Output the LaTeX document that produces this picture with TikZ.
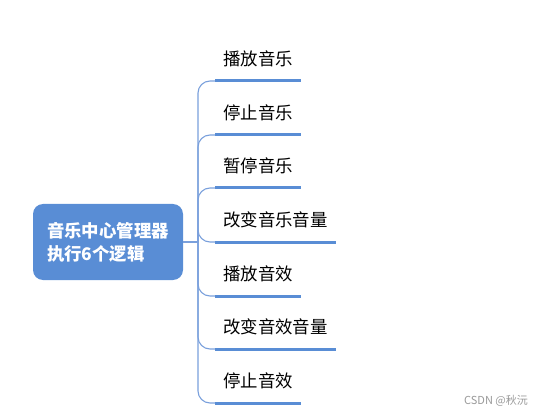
\documentclass[tikz,border=0pt]{standalone}
\usepackage{fontspec}
\setmainfont{Noto Sans CJK SC}
\usepackage{tikz}
\definecolor{mapblue}{RGB}{89,141,213}
\definecolor{stemblue}{RGB}{122,160,220}

\begin{document}
\begin{tikzpicture}[
  x=1pt, y=-1pt,
  root/.style={
    rectangle, rounded corners=10pt, fill=mapblue,
    text=white, font=\fontsize{17.4}{23}\selectfont\bfseries,
    align=left, minimum width=150pt, minimum height=76pt
  },
  leaf/.style={
    anchor=south west, inner xsep=8pt, inner ysep=0pt,
    text height=12pt, text depth=15pt,
    font=\fontsize{17.4}{20}\selectfont
  },
  stem/.style={draw=stemblue, line width=1.1pt, rounded corners=12pt},
  bar/.style={draw=mapblue, line width=3pt}
]
  \useasboundingbox (0,0) rectangle (544,417);
  \node[root] (root) at (108,242) {音乐中心管理器\\执行6个逻辑};
  \coordinate (hub) at (198,242);
  \draw[stem] (root.east) -- (hub);
  \foreach \i/\y/\txt in {1/81/播放音乐,2/135/停止音乐,3/188/暂停音乐,
      4/242/改变音乐音量,5/296/播放音效,6/349/改变音效音量,7/403/停止音效} {
    \node[leaf] (t\i) at (215,\y) {\txt};
    \draw[stem] (hub) |- (t\i.south west);
    \draw[bar] (t\i.south west) -- (t\i.south east);
  }
  \node[text=gray!80, font=\fontsize{11}{13}\selectfont] (mark) at (496,401) {CSDN @秋沅};
\end{tikzpicture}
\end{document}
